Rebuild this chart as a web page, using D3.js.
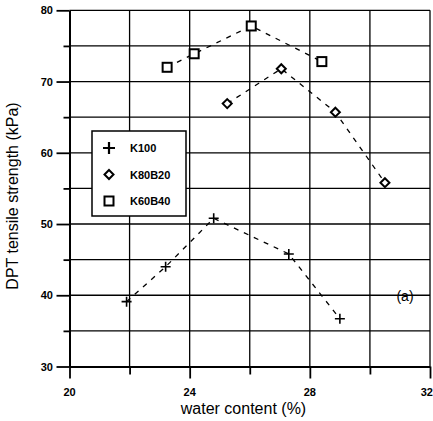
<!DOCTYPE html>
<meta charset="utf-8">
<style>
body { margin: 0; background: #fff; }
text { font-family: "Liberation Sans", Arial, sans-serif; fill: #000; }
.grid line { stroke: #000; stroke-width: 1.3px; }
.tick-label { font-size: 11px; font-weight: bold; }
</style>
<svg width="433" height="421"></svg>
<script src="https://cdn.jsdelivr.net/npm/d3@7/dist/d3.min.js"></script>
<script>

// water content (%) / DPT tensile strength (kPa)
var k100_x = [21.9, 23.2, 24.8, 27.3, 29.0];
var k100_y = [39.1, 44.0, 50.8, 45.8, 36.7];
var k80b20_x = [25.25, 27.05, 28.85, 30.5];
var k80b20_y = [66.9, 71.8, 65.7, 55.8];
var k60b40_x = [23.25, 24.15, 26.05, 28.4];
var k60b40_y = [72.0, 73.9, 77.8, 72.8];

var series_names = ["K100", "K80B20", "K60B40"];
var x_tick_labels = [20, 24, 28, 32];
var y_tick_labels = [30, 40, 50, 60, 70, 80];

var svg = d3.select("svg");

var x = d3.scaleLinear().domain([20, 32]).range([69.5, 430]);
var y = d3.scaleLinear().domain([30, 80]).range([366.5, 10.3]);

// grid
var grid = svg.append("g").attr("class", "grid");
grid.selectAll(".v")
    .data(d3.range(22, 33, 2))
  .enter().append("line")
    .attr("x1", function(d) { return x(d); })
    .attr("x2", function(d) { return x(d); })
    .attr("y1", y(80))
    .attr("y2", y(30));
grid.selectAll(".h")
    .data(d3.range(35, 81, 5))
  .enter().append("line")
    .attr("x1", x(20))
    .attr("x2", x(32))
    .attr("y1", function(d) { return y(d); })
    .attr("y2", function(d) { return y(d); });

// axes
var xAxis = d3.axisBottom(x)
    .tickValues(d3.range(20, 33, 2))
    .tickSize(0)
    .tickFormat("");
var yAxis = d3.axisLeft(y)
    .tickValues(d3.range(30, 81, 5))
    .tickSize(0)
    .tickFormat("");

var gx = svg.append("g").attr("transform", "translate(0," + y(30) + ")").call(xAxis);
var gy = svg.append("g").attr("transform", "translate(" + x(20) + ",0)").call(yAxis);
gx.select(".domain").attr("stroke", "#000").attr("stroke-width", 2);
gy.select(".domain").attr("stroke", "#000").attr("stroke-width", 2);

gx.selectAll(".tick line")
    .attr("stroke", "#000").attr("stroke-width", 1.8)
    .attr("y2", function(d) { return x_tick_labels.indexOf(d) >= 0 ? 12 : 8; });
gy.selectAll(".tick line")
    .attr("stroke", "#000").attr("stroke-width", 1.8)
    .attr("x2", function(d) { return y_tick_labels.indexOf(d) >= 0 ? -13 : -6; });

svg.append("g").selectAll("text")
    .data(x_tick_labels)
  .enter().append("text")
    .attr("class", "tick-label")
    .attr("x", function(d) { return d == 32 ? 433 : x(d); })
    .attr("y", 396)
    .attr("text-anchor", function(d) { return d == 32 ? "end" : "middle"; })
    .text(function(d) { return d; });

svg.append("g").selectAll("text")
    .data(y_tick_labels)
  .enter().append("text")
    .attr("class", "tick-label")
    .attr("x", 53)
    .attr("y", function(d) { return y(d) + 4; })
    .attr("text-anchor", "end")
    .text(function(d) { return d; });

svg.append("text")
    .attr("x", 243.5)
    .attr("y", 414)
    .attr("text-anchor", "middle")
    .style("font-size", "16px")
    .text("water content (%)");

svg.append("text")
    .attr("transform", "translate(18,196) rotate(-90)")
    .attr("text-anchor", "middle")
    .style("font-size", "16px")
    .text("DPT tensile strength (kPa)");

// series
var line = d3.line()
    .x(function(d) { return x(d[0]); })
    .y(function(d) { return y(d[1]); });

var series = [
  { name: series_names[0], pts: d3.zip(k100_x, k100_y), sym: "plus" },
  { name: series_names[1], pts: d3.zip(k80b20_x, k80b20_y), sym: "diamond" },
  { name: series_names[2], pts: d3.zip(k60b40_x, k60b40_y), sym: "square" }
];

function marker(g, sym, cx, cy) {
  if (sym == "plus") {
    g.append("path")
        .attr("d", "M" + (cx - 5) + "," + cy + "H" + (cx + 5) + "M" + cx + "," + (cy - 5) + "V" + (cy + 5))
        .attr("stroke", "#000").attr("stroke-width", 1.6).attr("fill", "none");
  } else if (sym == "diamond") {
    g.append("path")
        .attr("d", "M" + cx + "," + (cy - 4.5) + "L" + (cx + 4.5) + "," + cy + "L" + cx + "," + (cy + 4.5) + "L" + (cx - 4.5) + "," + cy + "Z")
        .attr("stroke", "#000").attr("stroke-width", 2).attr("fill", "#fff");
  } else {
    g.append("rect")
        .attr("x", cx - 4.5).attr("y", cy - 4.5)
        .attr("width", 9).attr("height", 9)
        .attr("stroke", "#000").attr("stroke-width", 2).attr("fill", "#fff");
  }
}

series.forEach(function(s) {
  svg.append("path")
      .datum(s.pts)
      .attr("d", line)
      .attr("fill", "none")
      .attr("stroke", "#000")
      .attr("stroke-width", 1.3)
      .attr("stroke-dasharray", "5,6");
});
series.forEach(function(s) {
  var g = svg.append("g");
  s.pts.forEach(function(p) { marker(g, s.sym, x(p[0]), y(p[1])); });
});

// legend
var leg = svg.append("g");
leg.append("rect")
    .attr("x", 92).attr("y", 131)
    .attr("width", 94).attr("height", 85)
    .attr("fill", "#fff").attr("stroke", "#000").attr("stroke-width", 1.5);
series.forEach(function(s, i) {
  var ly = 148 + i * 26.5;
  var lg = leg.append("g");
  marker(lg, s.sym, 109, ly);
  if (s.sym == "plus") {
    lg.select("path").attr("d", "M103," + ly + "H115M109," + (ly - 6) + "V" + (ly + 6)).attr("stroke-width", 2.2);
  }
  leg.append("text")
      .attr("class", "tick-label")
      .attr("x", 130)
      .attr("y", ly + 4)
      .text(s.name);
});

svg.append("text")
    .attr("x", 405)
    .attr("y", 301)
    .attr("text-anchor", "middle")
    .style("font-size", "14px")
    .text("(a)");

</script>
